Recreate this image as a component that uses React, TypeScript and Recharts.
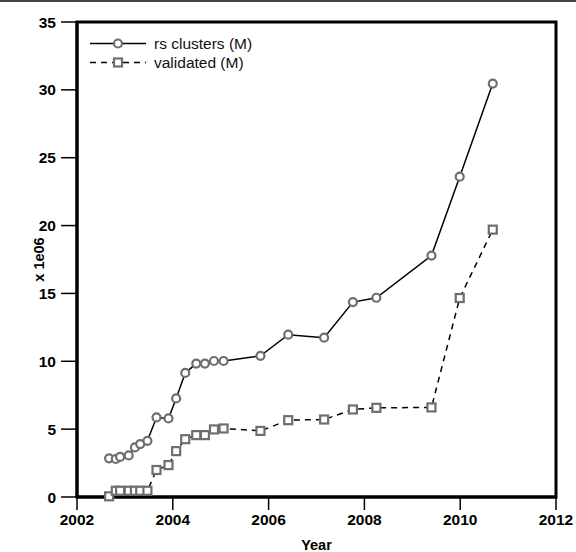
import { LineChart, Line, XAxis, YAxis, ReferenceArea, Legend } from "recharts";

const years = [
  2002.67, 2002.81, 2002.9, 2003.08, 2003.21, 2003.32, 2003.47, 2003.66, 2003.91, 2004.07, 2004.26, 2004.49,
  2004.67, 2004.86, 2005.06, 2005.83, 2006.41, 2007.16, 2007.76, 2008.25, 2009.4, 2009.99, 2010.68,
];
const rsClusters = [
  2.85, 2.8, 2.95, 3.06, 3.65, 3.9, 4.14, 5.86, 5.79, 7.26, 9.14, 9.83, 9.83, 10.02, 10.02, 10.4, 11.96, 11.74,
  14.36, 14.68, 17.79, 23.6, 30.46,
];
const validated = [
  0.05, 0.46, 0.46, 0.46, 0.46, 0.46, 0.46, 1.99, 2.35, 3.38, 4.26, 4.56, 4.56, 4.98, 5.05, 4.87, 5.66, 5.71, 6.45,
  6.57, 6.6, 14.66, 19.7,
];
const xTicks = [2002, 2004, 2006, 2008, 2010, 2012];
const yTicks = [0, 5, 10, 15, 20, 25, 30, 35];

const data = years.map((year, i) => ({ year, rs: rsClusters[i], val: validated[i] }));

const FONT = "'Liberation Sans', Arial, Helvetica, sans-serif";
const MARK = "#6e6e6e";
const tickStyle = { fill: "#000", fontSize: 15.5, fontWeight: "bold" as const, fontFamily: FONT };

const CircleDot = (props: any) => {
  const { cx, cy, index } = props;
  if (cx == null || cy == null) return <g key={index} />;
  return <circle key={index} cx={cx} cy={cy} r={4} fill="#fff" stroke={MARK} strokeWidth={2.2} />;
};

const SquareDot = (props: any) => {
  const { cx, cy, index } = props;
  if (cx == null || cy == null) return <g key={index} />;
  return <rect key={index} x={cx - 4} y={cy - 4} width={8} height={8} fill="#fff" stroke={MARK} strokeWidth={2.2} />;
};

const LegendBox = () => (
  <div style={{ fontFamily: FONT, fontSize: 15.5, color: "#111", lineHeight: "19px" }}>
    <div style={{ display: "flex", alignItems: "center" }}>
      <svg width={58} height={19}>
        <line x1={0} y1={9.5} x2={56} y2={9.5} stroke="#000" strokeWidth={1.5} />
        <circle cx={28} cy={9.5} r={4} fill="#fff" stroke={MARK} strokeWidth={2.2} />
      </svg>
      <span style={{ marginLeft: 6 }}>rs clusters (M)</span>
    </div>
    <div style={{ display: "flex", alignItems: "center" }}>
      <svg width={58} height={19}>
        <line x1={0} y1={9.5} x2={56} y2={9.5} stroke="#000" strokeWidth={1.5} strokeDasharray="6 5" />
        <rect x={24} y={5.5} width={8} height={8} fill="#fff" stroke={MARK} strokeWidth={2.2} />
      </svg>
      <span style={{ marginLeft: 6 }}>validated (M)</span>
    </div>
  </div>
);

export default function App() {
  return (
    <div style={{ position: "absolute", left: 0, top: 0, width: 576, height: 552, background: "#fff" }}>
      <div style={{ position: "absolute", left: 0, top: 0, width: 576, height: 2, background: "#444" }} />
      <LineChart width={576} height={552} data={data} margin={{ top: 22, right: 20, left: 0, bottom: 0 }}>
        <XAxis
          dataKey="year"
          type="number"
          domain={[2002, 2012]}
          ticks={xTicks}
          interval={0}
          tickSize={13}
          tickMargin={4}
          height={55}
          axisLine={{ stroke: "#000", strokeWidth: 3 }}
          tickLine={{ stroke: "#000", strokeWidth: 1.5 }}
          tick={tickStyle}
          label={{ value: "Year", position: "insideBottom", offset: 2, style: { ...tickStyle, fontSize: 14.5 } }}
        />
        <YAxis
          type="number"
          domain={[0, 35]}
          ticks={yTicks}
          interval={0}
          width={77}
          tickSize={16}
          tickMargin={5}
          axisLine={{ stroke: "#000", strokeWidth: 3 }}
          tickLine={{ stroke: "#000", strokeWidth: 1.5 }}
          tick={tickStyle}
          label={{
            value: "x 1e06",
            angle: -90,
            position: "center",
            dx: 0,
            style: { ...tickStyle, fontSize: 14.5, textAnchor: "middle" },
          }}
        />
        <ReferenceArea x1={2002} x2={2012} y1={0} y2={35} fill="none" stroke="#000" strokeWidth={3} />
        <Legend
          content={<LegendBox />}
          layout="horizontal"
          verticalAlign="middle"
          align="center"
          wrapperStyle={{ position: "absolute", left: 90, top: 34, width: 220 }}
        />
        <Line
          type="linear"
          dataKey="rs"
          stroke="#000"
          strokeWidth={1.5}
          dot={CircleDot}
          activeDot={false}
          isAnimationActive={false}
        />
        <Line
          type="linear"
          dataKey="val"
          stroke="#000"
          strokeWidth={1.5}
          strokeDasharray="6 5"
          dot={SquareDot}
          activeDot={false}
          isAnimationActive={false}
        />
      </LineChart>
    </div>
  );
}
